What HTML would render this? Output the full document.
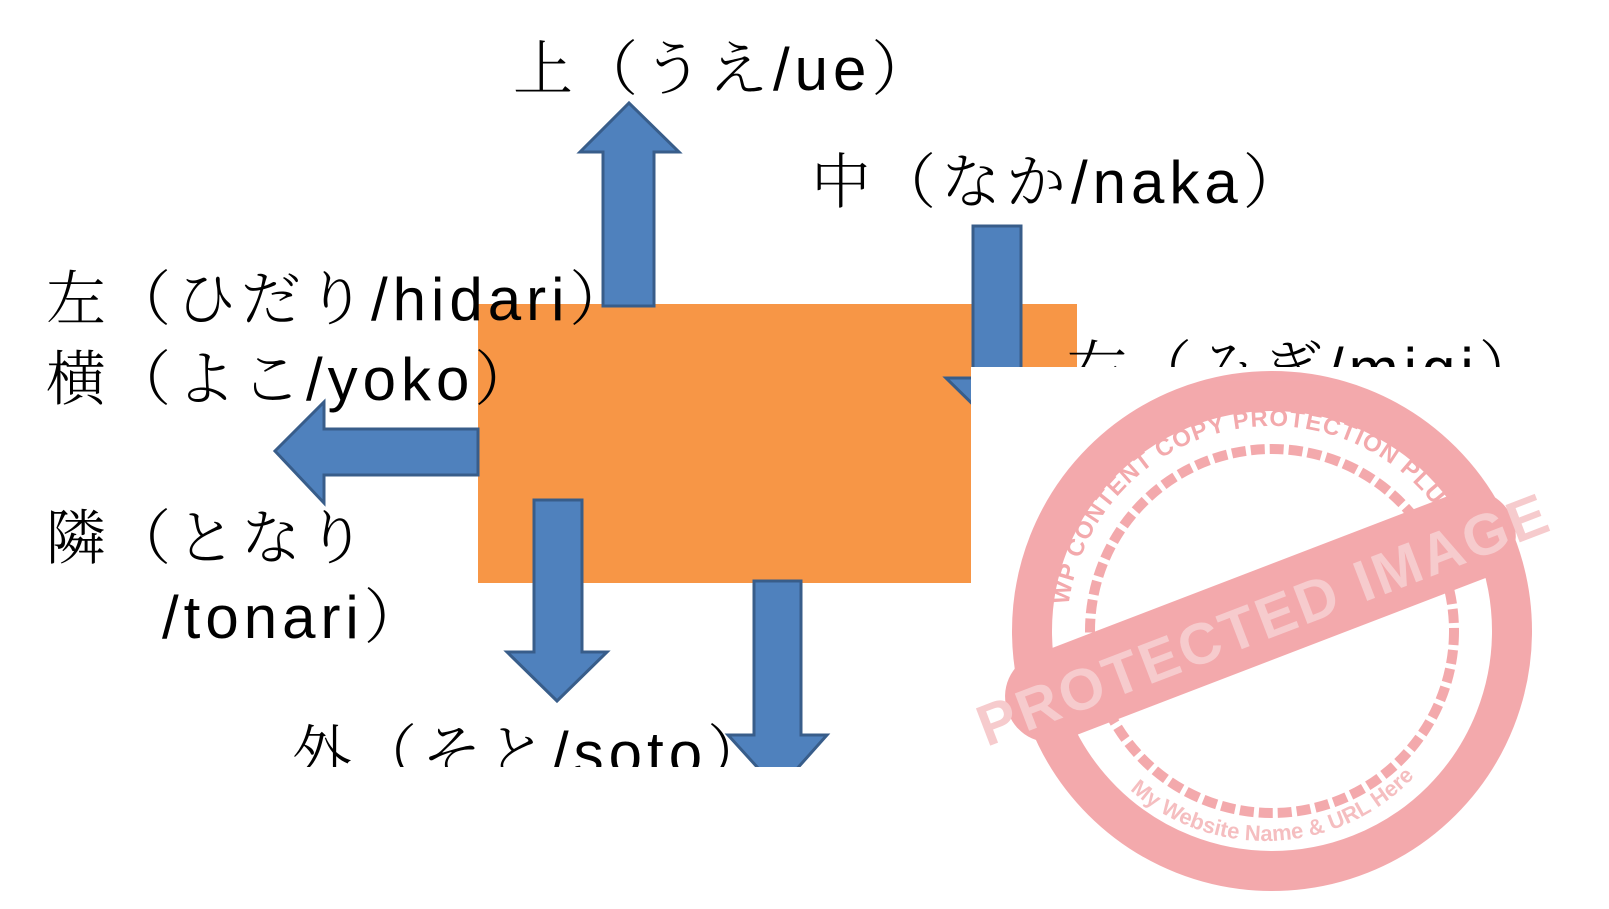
<!DOCTYPE html>
<html><head><meta charset="utf-8"><style>
html,body{margin:0;padding:0;background:#fff;width:1609px;height:909px;overflow:hidden}
svg{display:block}
.t{font-family:"Liberation Sans","Noto Serif CJK JP",serif;font-size:60px;fill:#000;letter-spacing:5px}
.j{font-family:"Noto Serif CJK JP","Noto Serif CJK SC",serif;font-weight:300}
.l{font-family:"Liberation Sans",sans-serif;font-weight:normal}
</style></head><body>
<svg width="1609" height="909" viewBox="0 0 1609 909" xmlns="http://www.w3.org/2000/svg">
<defs>
<clipPath id="c"><path d="M0 0H1609V367H971V767H0Z"/></clipPath>
<path id="arcTop" d="M1067 631 A205 205 0 0 1 1477 631"/>
<path id="arcBot" d="M1130 790 A205 205 0 0 0 1460 700"/>
</defs>
<g clip-path="url(#c)">
<rect x="478" y="304" width="599" height="279" fill="#F79646"/>
<g fill="#4F81BD" stroke="#385D8A" stroke-width="3">
<path d="M603 306V152H580L629 103L679 152H654V306Z"/>
<path d="M973 226H1021V378H1046L997 428L946 378H973Z"/>
<path d="M478 429H324V402L275 451L324 503V475H478Z"/>
<path d="M534 500H582V652H607L557 701L507 652H534Z"/>
<path d="M754 581H801V735H827L778 790L728 735H754Z"/>
</g>
<text class="t" x="513" y="90"><tspan class="j">上（うえ</tspan><tspan class="l">/ue</tspan><tspan class="j">）</tspan></text>
<text class="t" x="811" y="203"><tspan class="j">中（なか</tspan><tspan class="l">/naka</tspan><tspan class="j">）</tspan></text>
<text class="t" x="46" y="320"><tspan class="j">左（ひだり</tspan><tspan class="l">/hidari</tspan><tspan class="j">）</tspan></text>
<text class="t" x="46" y="400"><tspan class="j">横（よこ</tspan><tspan class="l">/yoko</tspan><tspan class="j">）</tspan></text>
<text class="t" x="46" y="559"><tspan class="j">隣（となり</tspan></text>
<text class="t" x="162" y="638"><tspan class="l">/tonari</tspan><tspan class="j">）</tspan></text>
<text class="t" x="292" y="774"><tspan class="j">外（そと</tspan><tspan class="l">/soto</tspan><tspan class="j">）</tspan></text>
<text class="t" x="1067" y="390"><tspan class="j">右（みぎ</tspan><tspan class="l">/migi</tspan><tspan class="j">）</tspan></text>
</g>
<g opacity="0.9">
<circle cx="1272" cy="631" r="240" fill="none" stroke="#F2A0A4" stroke-width="40"/>
<circle cx="1272" cy="631" r="182" fill="none" stroke="#F2A0A4" stroke-width="10" stroke-dasharray="14 5"/>
<text font-family="Liberation Sans,sans-serif" font-weight="bold" font-size="24" fill="#F2A0A4" letter-spacing="1"><textPath href="#arcTop" startOffset="4%">WP CONTENT COPY PROTECTION PLUGIN</textPath></text>
<text font-family="Liberation Sans,sans-serif" font-weight="bold" font-size="22" fill="#F4B8BA"><textPath href="#arcBot">My Website Name &amp; URL Here</textPath></text>
<g transform="rotate(-21 1250 617)">
<rect x="990" y="575" width="540" height="90" rx="44" fill="#F2A0A4"/>
<text x="1262" y="644" text-anchor="middle" font-family="Liberation Sans,sans-serif" font-weight="bold" font-size="58" fill="#F6C6C8" letter-spacing="3">PROTECTED IMAGE</text>
</g>
</g>
</svg>
</body></html>
